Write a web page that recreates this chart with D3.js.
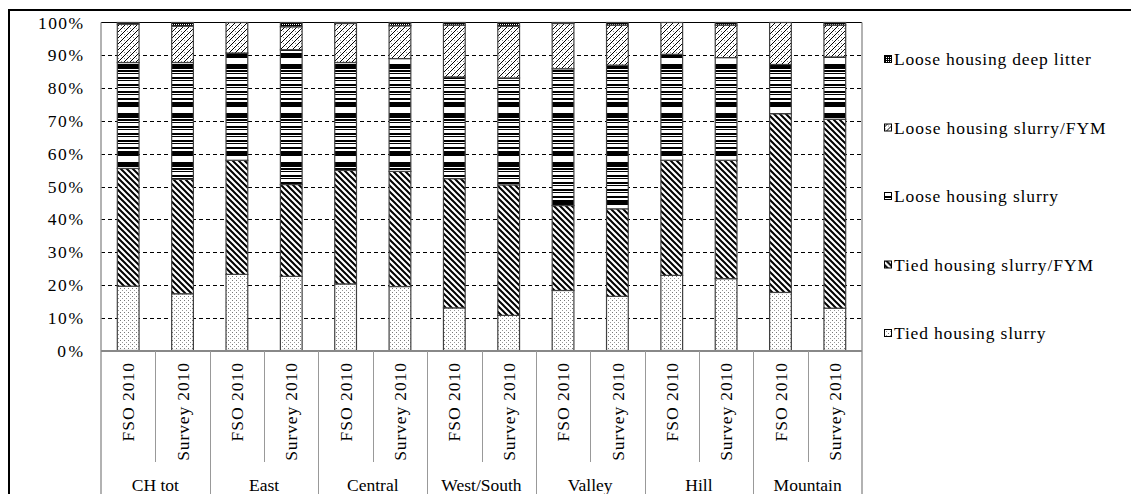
<!DOCTYPE html>
<html><head><meta charset="utf-8">
<script src="https://cdn.jsdelivr.net/npm/d3@7"></script>
<style>html,body{margin:0;padding:0;background:#fff;overflow:hidden}svg{display:block}
svg text{font-family:"Liberation Serif","Times New Roman",serif;fill:#000}</style>
</head><body>
<svg id="c" width="1131" height="494"></svg>
<script>
// ---- data ----
const groups = ["CH tot", "East", "Central", "West/South", "Valley", "Hill", "Mountain"];
const sources = ["FSO 2010", "Survey 2010"];
const seriesNames = ["Tied housing slurry", "Tied housing slurry/FYM", "Loose housing slurry", "Loose housing slurry/FYM", "Loose housing deep litter"];
const tiedSlurry      = [19.6, 17.3, 23.2, 22.6, 20.3, 19.5, 13.0, 10.7, 18.3, 16.5, 22.9, 21.9, 17.7, 12.9];
const tiedSlurryFYM   = [35.9, 34.9, 34.8, 28.0, 34.6, 35.1, 39.4, 39.8, 25.9, 26.7, 35.1, 36.1, 54.5, 57.6];
const looseSlurry     = [32.3, 35.6, 32.7, 41.1, 32.9, 34.4, 31.0, 32.6, 41.7, 43.8, 32.3, 31.3, 15.0, 19.0];
const looseSlurryFYM  = [11.7, 11.1,  9.3,  7.0, 11.9, 10.0, 15.8, 15.8, 13.8, 12.2,  9.7,  9.9, 12.8,  9.7];
const looseDeepLitter = [ 0.5,  1.1,  0.0,  1.3,  0.3,  1.0,  0.8,  1.1,  0.3,  0.8,  0.0,  0.8,  0.0,  0.8];
const yTicks = [0, 10, 20, 30, 40, 50, 60, 70, 80, 90, 100];

// ---- build ----
const seriesValues = [tiedSlurry, tiedSlurryFYM, looseSlurry, looseSlurryFYM, looseDeepLitter];
const bars = groups.flatMap(g => sources.map(s => ({g, s, key: g + "|" + s})));
bars.forEach((b, i) => seriesNames.forEach((n, k) => b[n] = seriesValues[k][i]));
const stacked = d3.stack().keys(seriesNames)(bars);

const FONT = '"Liberation Serif","Times New Roman",serif';
const svg = d3.select("#c");

const x = d3.scaleBand().domain(bars.map(b => b.key)).range([101, 862]).paddingInner(0.6).paddingOuter(0.3);
const y = d3.scaleLinear().domain([0, 100]).range([350.5, 22.5]);

// widen text by a factor using textLength (spacing only)
function stretch(sel, f) {
  sel.each(function () {
    const L = this.getComputedTextLength();
    d3.select(this).attr("textLength", (L * f).toFixed(1)).attr("lengthAdjust", "spacing");
  });
}

// ---- patterns ----
const defs = svg.append("defs");
function pat(id, w, h, y0) {
  const p = defs.append("pattern").attr("id", id).attr("patternUnits", "userSpaceOnUse")
    .attr("width", w).attr("height", h).attr("x", 0).attr("y", y0 || 0);
  p.append("rect").attr("width", w).attr("height", h).attr("fill", "#fff");
  return p;
}
let p = pat("pTS", 4, 4);
p.append("rect").attr("x", 0).attr("y", 0).attr("width", 1).attr("height", 1).attr("fill", "#777");
p.append("rect").attr("x", 2).attr("y", 2).attr("width", 1).attr("height", 1).attr("fill", "#999");
p = pat("pTF", 6, 6);
p.append("path").attr("d", "M-1,-1L7,7M-1,5L1,7M5,-1L7,1").attr("stroke", "#000").attr("stroke-width", 2);
p = pat("pLS", 8, 49, 4);
p.append("rect").attr("x", 0).attr("y", 0).attr("width", 8).attr("height", 5).attr("fill", "#000");
p.append("rect").attr("x", 0).attr("y", 11).attr("width", 8).attr("height", 5).attr("fill", "#000");
{
  const seq = [[1, 0], [2, 1], [1, 0], [1, 1], [2, 0]];
  let yy = 16, k = 0;
  while (yy < 48) {
    const [hgt, blk] = seq[k % seq.length];
    if (blk) p.append("rect").attr("x", 0).attr("y", yy).attr("width", 8).attr("height", Math.min(hgt, 48 - yy)).attr("fill", "#000");
    yy += hgt; k++;
  }
}
p = pat("pLF", 6, 6);
p.append("path").attr("d", "M-1,7L7,-1M-1,1L1,-1M5,7L7,5").attr("stroke", "#000").attr("stroke-width", 1);
p.append("rect").attr("x", 1).attr("y", 1).attr("width", 1).attr("height", 1).attr("fill", "#888");
p.append("rect").attr("x", 4).attr("y", 4).attr("width", 1).attr("height", 1).attr("fill", "#888");
p = defs.append("pattern").attr("id", "pDL").attr("patternUnits", "userSpaceOnUse").attr("width", 2).attr("height", 2);
p.append("rect").attr("width", 2).attr("height", 2).attr("fill", "#000");
p.append("rect").attr("width", 1).attr("height", 1).attr("fill", "#fff");
const fills = ["url(#pTS)", "url(#pTF)", "url(#pLS)", "url(#pLF)", "url(#pDL)"];

// ---- outer frame ----
svg.append("path").attr("d", "M9,494V10H1131").attr("fill", "none").attr("stroke", "#000").attr("stroke-width", 2);

// ---- gridlines ----
svg.append("g").selectAll("line").data(yTicks.filter(t => t > 0 && t < 100)).join("line")
  .attr("x1", 101).attr("x2", 862).attr("y1", d => Math.round(y(d)) + 0.5).attr("y2", d => Math.round(y(d)) + 0.5)
  .attr("stroke", "#000").attr("stroke-width", 1).attr("stroke-dasharray", "4,3");

svg.append("line").attr("x1", 101).attr("x2", 862).attr("y1", 22.5).attr("y2", 22.5).attr("stroke", "#000");
svg.append("line").attr("x1", 862).attr("x2", 862).attr("y1", 22.5).attr("y2", 494).attr("stroke", "#999").attr("stroke-width", 1.5);
svg.append("line").attr("x1", 101).attr("x2", 101).attr("y1", 22.5).attr("y2", 494).attr("stroke", "#999").attr("stroke-width", 1.5);

// ---- y axis labels ----
const yAxis = svg.append("g").attr("transform", "translate(101,0)")
  .call(d3.axisLeft(y).tickValues(yTicks).tickFormat(d => d + "%").tickSize(0).tickPadding(18));
yAxis.attr("font-family", null).attr("font-size", null);
yAxis.select(".domain").remove();
yAxis.selectAll("text").style("font-family", FONT).style("font-size", "17.5px").attr("fill", "#000");
stretch(yAxis.selectAll("text"), 1.1);

// ---- bars ----
svg.append("g").selectAll("g").data(stacked).join("g")
  .attr("fill", (d, i) => fills[i])
  .selectAll("rect").data(d => d).join("rect")
  .attr("x", d => x(d.data.key)).attr("width", x.bandwidth())
  .attr("y", d => y(d[1])).attr("height", d => y(d[0]) - y(d[1]))
  .attr("stroke", "#404040").attr("stroke-width", 1.2);

// ---- category axis ----
svg.append("line").attr("x1", 101).attr("x2", 862).attr("y1", 351).attr("y2", 351).attr("stroke", "#888").attr("stroke-width", 2);
const step = x.step();
bars.forEach((b, i) => {
  if (i === 0) return;
  const bx = Math.round(x(b.key) + x.bandwidth() / 2 - step / 2) + 0.5;
  const isGroup = i % 2 === 0;
  svg.append("line").attr("x1", bx).attr("x2", bx).attr("y1", 351).attr("y2", isGroup ? 494 : 462)
    .attr("stroke", "#999").attr("stroke-width", 1);
});
const catText = svg.append("g").selectAll("text").data(bars).join("text")
  .attr("transform", d => `translate(${x(d.key) + x.bandwidth() / 2},363) rotate(-90)`)
  .attr("text-anchor", "end").attr("dy", "0.35em")
  .style("font-family", FONT).style("font-size", "17.5px")
  .text(d => d.s);
stretch(catText, 1.1);
svg.append("g").selectAll("text").data(groups).join("text")
  .attr("x", g => (x(g + "|" + sources[0]) + x(g + "|" + sources[1]) + x.bandwidth()) / 2)
  .attr("y", 491).attr("text-anchor", "middle")
  .style("font-family", FONT).style("font-size", "17.5px")
  .text(g => g);

// ---- legend ----
const legendOrder = seriesNames.map((n, i) => ({n, f: fills[i]})).reverse();
const lg = svg.append("g").selectAll("g").data(legendOrder).join("g")
  .attr("transform", (d, i) => `translate(884,${59 + i * 68.5})`);
lg.append("rect").attr("x", 0.5).attr("y", -3.5).attr("width", 7).attr("height", 7)
  .attr("fill", d => d.f).attr("stroke", "#000").attr("stroke-width", 1);
const lgText = lg.append("text").attr("x", 10).attr("dy", "0.35em")
  .style("font-family", FONT).style("font-size", "17.5px")
  .text(d => d.n);
stretch(lgText, 1.11);
</script>
</body></html>
